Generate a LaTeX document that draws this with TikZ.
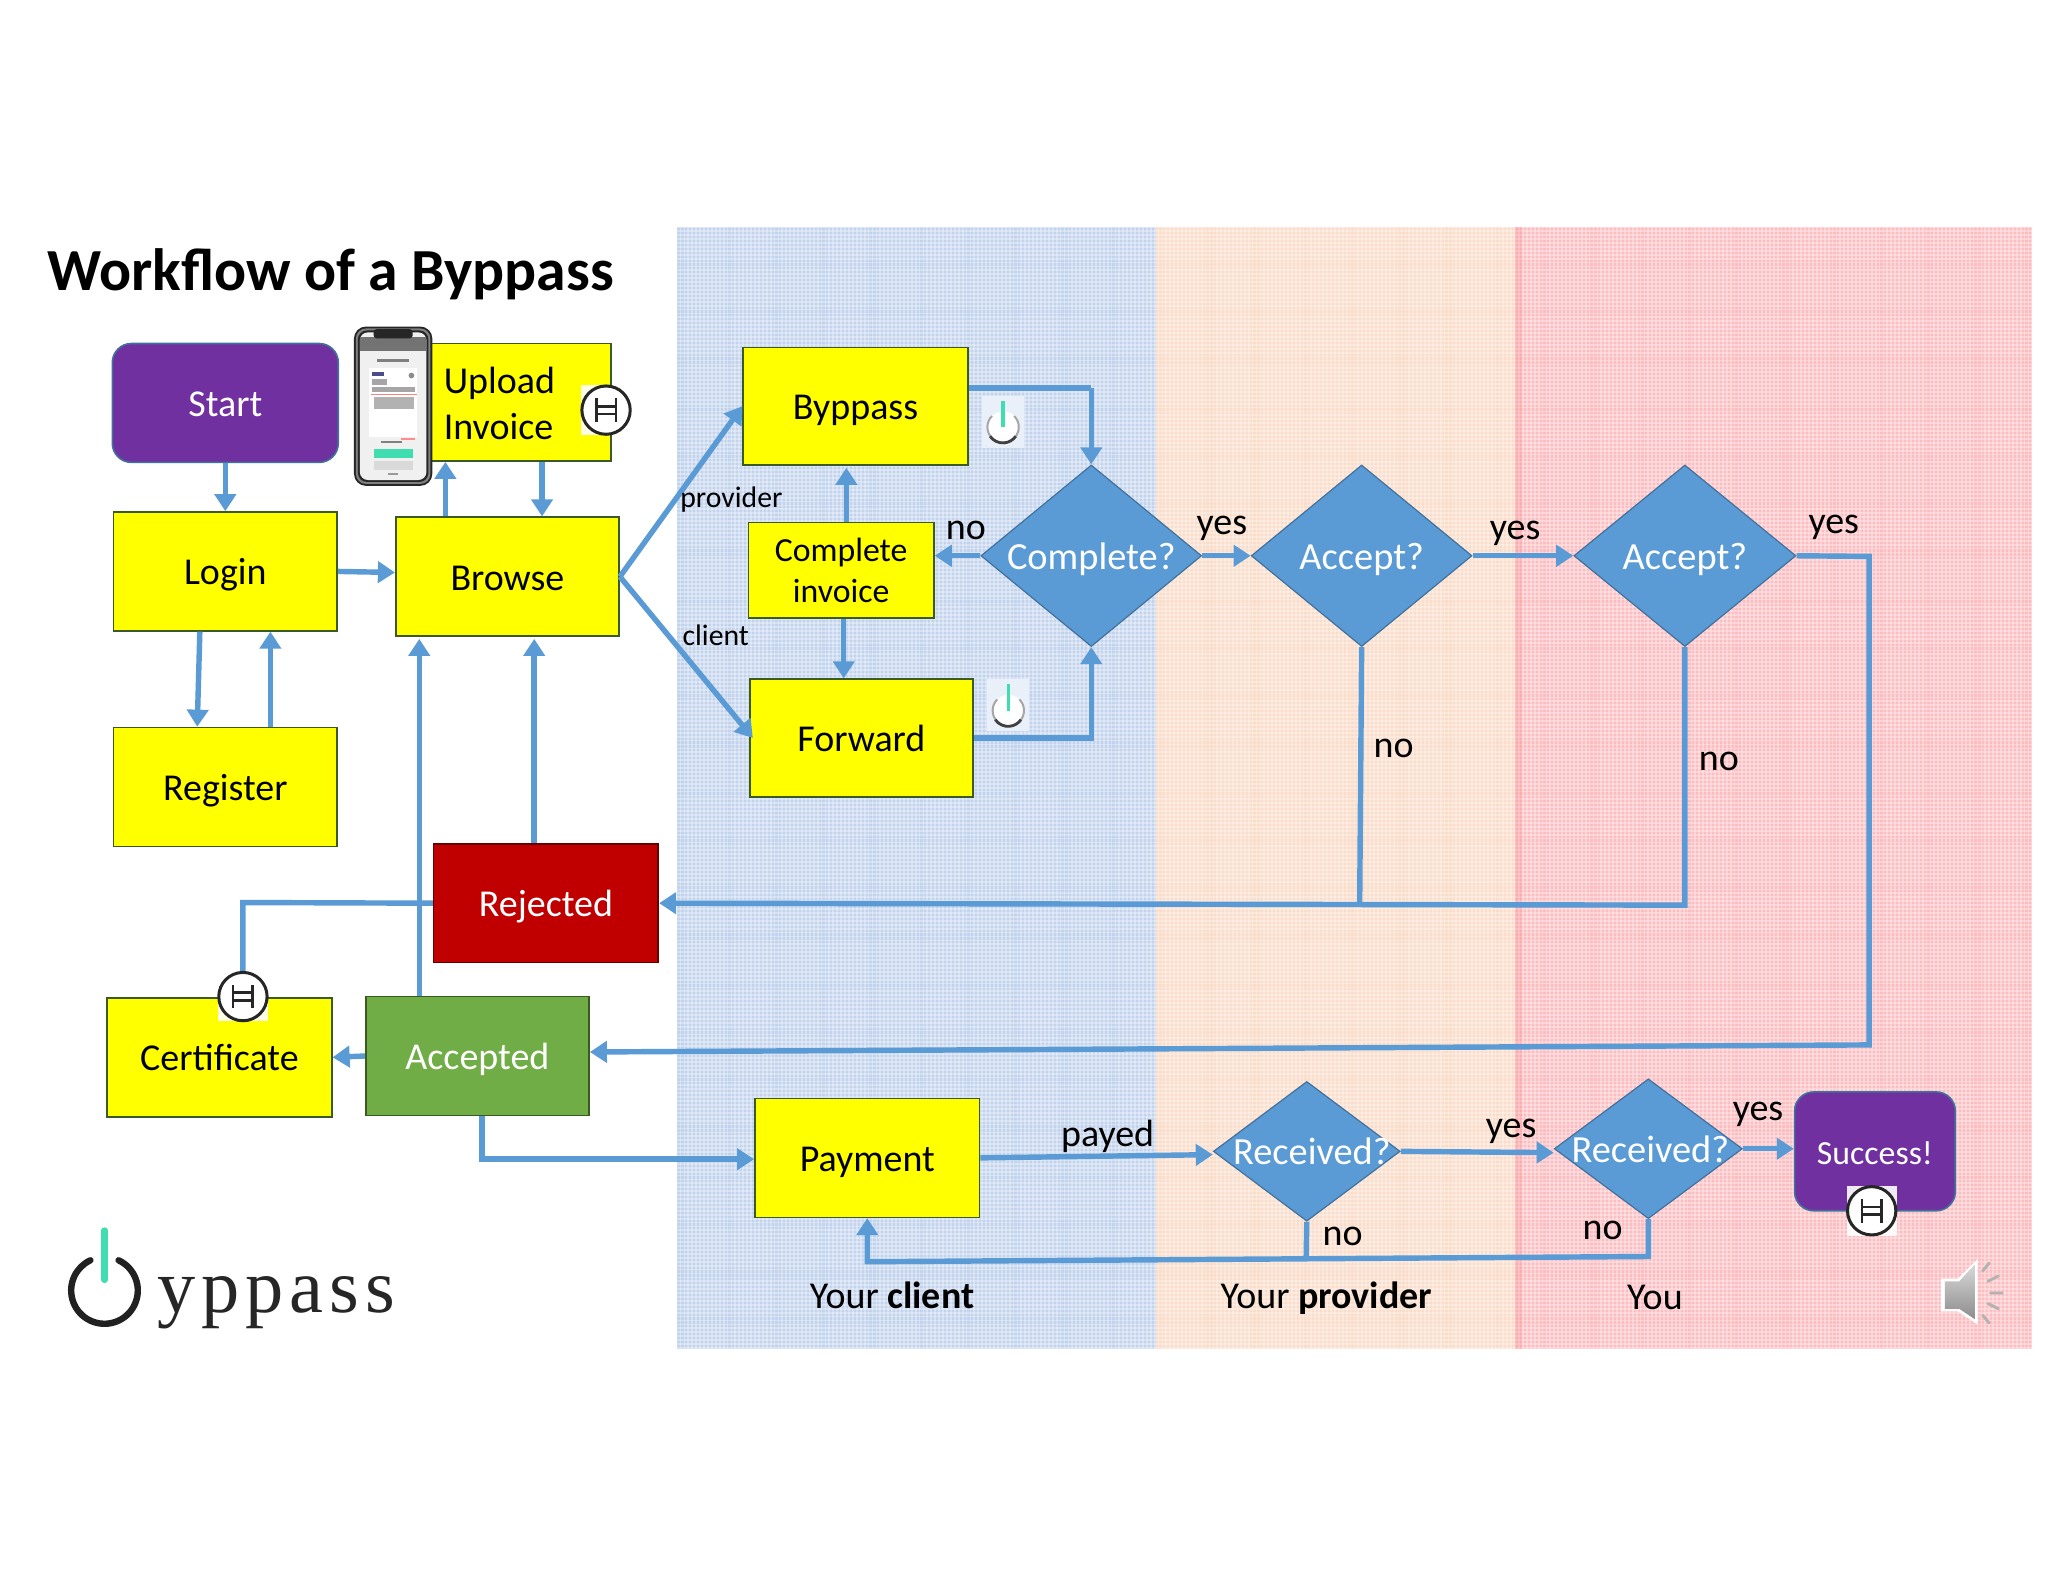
\documentclass[tikz,border=0pt]{standalone}
\usepackage{fontspec}
\setmainfont{Carlito}
\newfontfamily\logofont[LetterSpace=8]{Liberation Serif}
\usetikzlibrary{shapes.geometric,arrows.meta,calc}
\definecolor{flow}{HTML}{5B9BD5}
\definecolor{edgeblue}{HTML}{41719C}
\definecolor{edgegreen}{HTML}{3A5A22}
\definecolor{purp}{HTML}{7030A0}
\definecolor{yel}{HTML}{FFFF00}
\definecolor{panelblue}{HTML}{C2D3EE}
\definecolor{panelorange}{HTML}{FADCC8}
\definecolor{panelred}{HTML}{FCBDC0}
\definecolor{mint}{HTML}{40DDB0}
\def\uu{0.65pt}
\newcommand{\fs}[1]{\fontsize{#1}{#1}\selectfont}
\tikzset{
  x=0.65pt,y=-0.65pt,
  wh/.style 2 args={minimum width=#1*0.65pt,minimum height=#2*0.65pt},
  boxbase/.style={rectangle,draw=edgegreen,line width=0.8pt,inner sep=0pt,align=center},
  plainbox/.style={boxbase,font=\fs{18.9},text height=13.4pt,text depth=0pt},
  ybox/.style={plainbox,fill=yel,text=black},
  ymulti/.style={boxbase,fill=yel,text=black},
  redbox/.style={plainbox,fill={rgb,255:red,192;green,0;blue,0},draw=red!40!black,text=white},
  greenbox/.style={plainbox,fill={rgb,255:red,112;green,173;blue,71},text=white},
  purpbox/.style={rectangle,rounded corners=9.5pt,fill=purp,draw=edgeblue,line width=0.8pt,text=white,inner sep=0pt,font=\fs{18.9},text height=13.4pt,text depth=0pt},
  dia/.style={diamond,fill=flow,draw=edgeblue,line width=0.6pt,inner sep=0pt,text=white,font=\fs{19.1},text height=13.4pt,text depth=0pt},
  lab/.style={inner sep=0pt,font=\fs{18.9},text=black,yshift=-1.3pt},
  smalllab/.style={inner sep=0pt,font=\fs{14.8},text=black,yshift=-1pt},
  conn/.style={draw=flow,line width=2.7pt,line join=miter},
  arr/.style={conn,-{Triangle[length=8.5pt,width=10.5pt]}},
  hicon/.pic={
    \fill[white,opacity=0.9] (-19,-19) rectangle (19,19);
    \draw[black!85,fill=white,line width=1.5pt] (0,0) circle[radius=18.5];
    \draw[black!85,line width=1.3pt] (-7.5,-9)--(-7.5,9) (7.5,-9)--(7.5,9) (-7.5,-3)--(7.5,-3) (-7.5,3)--(7.5,3);
  },
  powericon/.pic={
    \fill[panelblue!35!white] (-16,-20) rectangle (16,20);
    \fill[white] (0,4) circle[radius=12];
    \draw[black!35,line width=1pt] (0,4) ++(-8.5,-8.5) arc[start angle=225,end angle=-45,radius=12];
    \draw[black!75,line width=1.4pt] (0,4) ++(-10,7) arc[start angle=145,end angle=35,radius=12];
    \draw[mint,line width=1.8pt] (0,-16)--(0,4);
  },
}
\begin{document}
\begin{tikzpicture}
\useasboundingbox (0,0) rectangle (1568,1211.2);
\fill[white] (0,0) rectangle (1568,1211.2);
% panels
\fill[panelblue] (518,174) rectangle (885,1033);
\fill[panelorange] (885,174) rectangle (1160,1033);
\fill[panelred] (1160,174) rectangle (1556,1033);
\begin{scope}
\clip (518,174) rectangle (1556,1033);
\foreach \gx in {518,521,...,1556} {\draw[white,opacity=0.32,line width=0.9pt] (\gx,174) -- (\gx,1033);}
\foreach \gy in {174,177,...,1033} {\draw[white,opacity=0.32,line width=0.9pt] (518,\gy) -- (1556,\gy);}
\end{scope}
\fill[red!45!panelred,opacity=0.2] (1160,174) rectangle (1165,1033);
% title
\node[inner sep=0pt,anchor=west,font=\fs{29.7}\bfseries,text=black] (title) at (36,210) {Workflow of a Byppass};
% boxes
\node[purpbox,wh={173}{91}] (start) at (172.5,308.5) {Start};
\node[ybox,wh={171}{91}] (login) at (172.5,437.5) {Login};
\node[ybox,wh={171}{91}] (register) at (172.5,602.5) {Register};
\node[ybox,wh={172}{90}] (upload) at (382,308) {};
\node[inner sep=0pt,text=black,anchor=west,align=left,font=\fontsize{18.9}{22.8}\selectfont] (uploadtext) at (339.5,309) {Upload\\Invoice};
\node[ybox,wh={171}{91}] (browse) at (388.5,441.5) {Browse};
\node[redbox,wh={172}{91}] (rejected) at (418,691.5) {Rejected};
\node[greenbox,wh={171}{91}] (accepted) at (365.5,808.5) {Accepted};
\node[ybox,wh={172}{91}] (certificate) at (168,809.5) {Certificate};
\node[ybox,wh={172}{90}] (byppass) at (655,311) {Byppass};
\node[ymulti,wh={142}{73},font=\fontsize{16.8}{20.6}\selectfont] (completeinv) at (644,436.5) {Complete\\invoice};
\node[ybox,wh={171}{90}] (forward) at (659.5,565) {Forward};
\node[ybox,wh={172}{91}] (payment) at (664,886.5) {Payment};
\node[dia,wh={169}{139}] (complete) at (835.5,425.5) {\makebox[0pt]{Complete?}};
\node[dia,wh={169}{139}] (accept1) at (1042.5,425.5) {\makebox[0pt]{Accept?}};
\node[dia,wh={170}{139}] (accept2) at (1290,425.5) {\makebox[0pt]{Accept?}};
\node[dia,wh={143}{107}] (received1) at (1000.5,881.5) {\makebox[0pt]{\hspace{5pt}Received?}};
\node[dia,wh={144}{107}] (received2) at (1262,879.5) {\makebox[0pt]{\hspace{2pt}Received?}};
\node[purpbox,wh={123}{91},font=\fs{16.8}] (success) at (1435.5,881.5) {Success!};
% connectors
\draw[arr] (start.south) -- (login.north);
\draw[arr] ([xshift=-47.5*\uu]browse.north) -- ([xshift=-41*\uu]upload.south);
\draw[arr] ([xshift=33*\uu]upload.south) -- ([xshift=26.5*\uu]browse.north);
\draw[arr] (login.east) -- ([yshift=3.2*\uu]browse.west);
\draw[arr] ([xshift=-19.5*\uu]login.south) -- ([xshift=-21.5*\uu]register.north);
\draw[arr] ([xshift=34.5*\uu]register.north) -- ([xshift=34.5*\uu]login.south);
\draw[arr] (browse.east) -- (byppass.west);
\draw[arr] (browse.east) -- ([xshift=3*\uu]forward.west);
\draw[arr] ([xshift=-44.5*\uu]accepted.north) -- ([xshift=-67.5*\uu,yshift=-1pt]browse.south);
\draw[arr] ([xshift=-9*\uu]rejected.north) -- ([xshift=20.5*\uu,yshift=-1pt]browse.south);
\draw[arr] (accepted.west) -- (certificate.east);
\draw[arr] ([xshift=3.5*\uu]accepted.south) |- ([yshift=-1*\uu]payment.west);
\draw[arr] ([yshift=0*\uu]payment.east) -- ([yshift=-2.5*\uu]received1.west);
\draw[arr] (received1.east) -- ([yshift=-3*\uu]received2.west);
\draw[arr] (received2.east) -- (received2.east -| success.west);
\coordinate (rcvcorner) at (1262,962);
\coordinate (paycorner) at (664,966);
\coordinate (rcvjoin) at (1000,964);
\draw[conn] (received1.south) -- (rcvjoin);
\draw[arr] (received2.south) -- (rcvcorner) -- (paycorner) -- (payment.south);
\coordinate (bypcorner) at (835.5,297);
\draw[conn] ([yshift=14*\uu]byppass.east) -- (bypcorner);
\draw[arr] (bypcorner) -- (complete.north);
\draw[arr] (forward.east) -| (complete.south);
\draw[arr] (complete.west) -- (complete.west -| completeinv.east);
\draw[arr] ([xshift=4*\uu]completeinv.north) -- ([xshift=-7*\uu,yshift=-1pt]byppass.south);
\draw[arr] ([xshift=2*\uu]completeinv.south) -- ([xshift=-13.5*\uu]forward.north);
\draw[arr] (complete.east) -- (accept1.west);
\draw[arr] (accept1.east) -- (accept2.west);
\coordinate (yescornerA) at (1431,426);
\coordinate (yescornerB) at (1431,800);
\draw[arr] (accept2.east) -- (yescornerA) -- (yescornerB) -- ([yshift=2pt]accepted.east);
\coordinate (joinA) at (1041,692);
\coordinate (joinB) at (1290,693);
\draw[conn] (accept1.south) -- (joinA);
\draw[arr] (accept2.south) -- (joinB) -- (rejected.east);
\coordinate (certcorner) at (186,691);
\coordinate (certend) at (186,750);
\draw[conn] (rejected.west) -- (certcorner) -- (certend);
% labels
\node[lab] (payedlab) at (848,868) {payed};
\node[lab] (no0) at (739.5,404) {no};
\node[lab] (yes0) at (935.5,402.5) {yes};
\node[lab] (yes1) at (1160,406.5) {yes};
\node[lab] (yes2) at (1404,401.5) {yes};
\node[lab] (no1) at (1067,571) {no};
\node[lab] (no2) at (1316,581) {no};
\node[lab] (yes3) at (1157,864.5) {yes};
\node[lab] (yes4) at (1346,851.5) {yes};
\node[lab] (no3) at (1028,945) {no};
\node[lab] (no4) at (1227,940) {no};
\node[smalllab] (provider) at (560,381) {provider};
\node[smalllab] (client) at (548,485) {client};
\node[lab] (yourclient) at (683,990) {Your \textbf{client}};
\node[lab] (yourprovider) at (1015.5,992) {Your \textbf{provider}};
\node[lab] (you) at (1267,991) {You};
% icons
\pic at (464,314) {hicon};
\pic at (186,763) {hicon};
\pic at (1433,927) {hicon};
\pic at (768,323) {powericon};
\pic at (772,540) {powericon};
% phone
\fill[black!85,rounded corners=6pt] (271,250) rectangle (331,372);
\fill[black!50,rounded corners=5pt] (272.5,251.5) rectangle (329.5,370.5);
\fill[black!85,rounded corners=4.5pt] (274,253) rectangle (328,369);
\fill[black!6,rounded corners=4pt] (275.5,254.5) rectangle (326.5,367.5);
\fill[black!55] (275.5,258) rectangle (326.5,269);
\fill[black!85,rounded corners=1.5pt] (286,252) rectangle (316,259);
\fill[white] (282.5,281.5) rectangle (319.5,334.5);
\fill[black!50] (289,275) rectangle (313,277);
\fill[blue!35!black,opacity=0.7] (285,284.5) rectangle (294,288);
\fill[black!45] (315,287.5) circle[radius=2.2];
\fill[black!35] (285,290) rectangle (296,295);
\fill[black!35] (285,296) rectangle (318,300);
\fill[red!50] (284,301.5) rectangle (319,302.5);
\fill[black!30] (286,304) rectangle (317,313);
\fill[red!45] (307,335.5) rectangle (318,336.5);
\fill[black!50] (292,337.5) rectangle (308,339.5);
\fill[mint] (286,343.5) rectangle (316,351);
\fill[black!15] (286,353) rectangle (316,360);
\fill[black!40] (297,362.5) rectangle (305,364);
% logo
\draw[black!87,line width=3.2pt,line cap=round] (80,988) ++(-65:25.5) arc[start angle=-65,end angle=245,radius=25.5];
\draw[mint,line width=3pt,line cap=round] (80,942) -- (80,980);
\node[inner sep=0pt,anchor=base west,text=black!85,font=\logofont\fs{38}] (logotext) at (120,1005) {yppass};
% speaker
\fill[white] (1486,979) -- (1499,979) -- (1514,964) -- (1514,1014) -- (1499,1004) -- (1486,1004) -- cycle;
\shade[top color=black!15,bottom color=black!45] (1489,981) -- (1500,981) -- (1512,968) -- (1512,1010) -- (1500,1002) -- (1489,1002) -- cycle;
\draw[black!30,line width=1.4pt,line cap=round] (1518,973)--(1523,967) (1522,981)--(1530,977) (1524,990)--(1533,990) (1522,998)--(1530,1002) (1518,1007)--(1523,1013);
\end{tikzpicture}
\end{document}
